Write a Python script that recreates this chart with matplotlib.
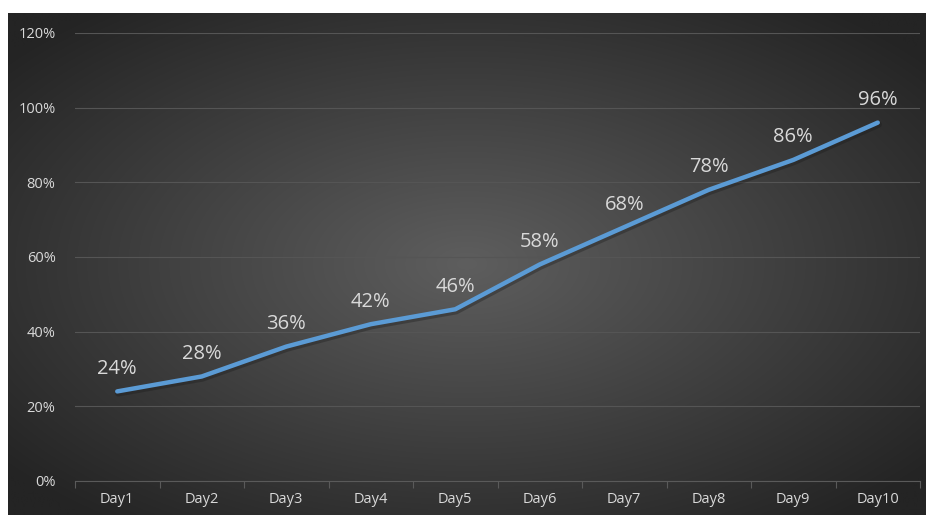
import numpy as np
import matplotlib.pyplot as plt
from matplotlib.transforms import ScaledTranslation

days = ["Day1", "Day2", "Day3", "Day4", "Day5", "Day6", "Day7", "Day8", "Day9", "Day10"]
values = [24, 28, 36, 42, 46, 58, 68, 78, 86, 96]
yticks = [0, 20, 40, 60, 80, 100, 120]

W, H = 926, 515
fig = plt.figure(figsize=(W / 100, H / 100), dpi=100)
fig.patch.set_facecolor("white")

# dark radial gradient background panel
bx0 = 8 / W
bg = fig.add_axes([bx0, 0, 1 - bx0, (H - 13) / H])
xx, yy = np.meshgrid(np.linspace(-1, 1, 400), np.linspace(-1, 1, 220))
r = np.clip(np.sqrt(xx ** 2 + yy ** 2) / 1.3, 0, 1)
inner, outer = np.array([0x5e, 0x5e, 0x5e]), np.array([0x24, 0x24, 0x24])
img = inner * (1 - r[..., None]) + outer * r[..., None]
bg.imshow(img / 255, aspect="auto", extent=[0, 1, 0, 1], interpolation="bilinear")
bg.set_axis_off()

# plot area
left, right = 75 / W, 920 / W
top, bottom = 33 / H, 481 / H
ax = fig.add_axes([left, 1 - bottom, right - left, bottom - top])
ax.patch.set_alpha(0)

x = np.arange(len(days))
shadow = ax.transData + ScaledTranslation(1 / 100, -2 / 100, fig.dpi_scale_trans)
ax.plot(x, values, color="#1a1a1a", lw=4.5, alpha=0.35, solid_capstyle="round", transform=shadow)
ax.plot(x, values, color="#5B9BD5", lw=3.2, solid_capstyle="round", solid_joinstyle="round", zorder=3)

for xi, v in zip(x, values):
    ax.annotate(f"{v}%", (xi, v), xytext=(0, 9), textcoords="offset points",
                ha="center", va="bottom", fontsize=14.5, color="#d9d9d9", family="Open Sans")

ax.set_xlim(-0.5, len(days) - 0.5)
ax.set_ylim(0, 120)
ax.set_yticks(yticks)
ax.set_yticklabels([f"{t}%" for t in yticks])
ax.grid(axis="y", color="#555555", lw=0.8)
ax.set_axisbelow(True)

ax.set_xticks(x)
ax.set_xticklabels(days)
ax.set_xticks(np.arange(-0.5, len(days)), minor=True)
ax.tick_params(axis="x", which="major", length=0, pad=8, labelsize=10.5, labelcolor="#d9d9d9")
ax.tick_params(axis="x", which="minor", length=5, color="#5a5a5a", width=0.8)
ax.tick_params(axis="y", length=0, pad=14, labelsize=10.5, labelcolor="#d9d9d9")
for lab in ax.get_xticklabels() + ax.get_yticklabels():
    lab.set_family("Open Sans")

for s in ["top", "right", "left"]:
    ax.spines[s].set_visible(False)
ax.spines["bottom"].set_color("#5a5a5a")
ax.spines["bottom"].set_linewidth(0.8)

fig.savefig("out.png", dpi=100)
